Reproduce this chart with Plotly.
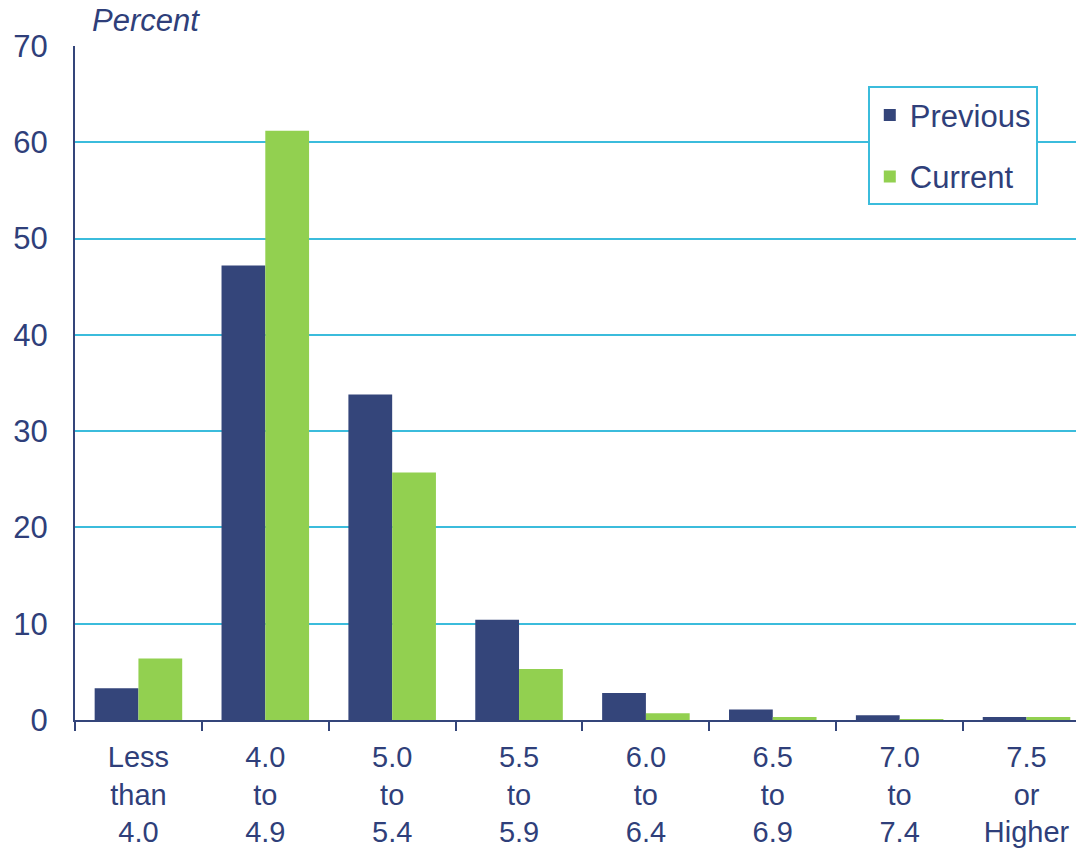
import plotly.graph_objects as go

categories = ["Less<br>than<br>4.0", "4.0<br>to<br>4.9", "5.0<br>to<br>5.4", "5.5<br>to<br>5.9",
              "6.0<br>to<br>6.4", "6.5<br>to<br>6.9", "7.0<br>to<br>7.4", "7.5<br>or<br>Higher"]
previous = [3.3, 47.2, 33.8, 10.4, 2.8, 1.1, 0.5, 0.3]
current = [6.4, 61.2, 25.7, 5.3, 0.7, 0.3, 0.1, 0.3]

navy = "#34457A"
green = "#92D050"
cyan = "#3BBCDC"
text_color = "#2F3F7A"

fig = go.Figure()
fig.add_trace(go.Bar(x=categories, y=previous, name="Previous", legendgroup="p",
                     marker=dict(color=navy, line=dict(width=0))))
fig.add_trace(go.Bar(x=categories, y=current, name="Current", legendgroup="c",
                     marker=dict(color=green, line=dict(width=0))))

fig.update_layout(
    width=1076, height=848,
    margin=dict(l=75, r=0, t=46, b=128),
    paper_bgcolor="white", plot_bgcolor="white",
    barmode="group", bargap=0.31, bargroupgap=0,
    font=dict(family="Liberation Sans, Arial, sans-serif", size=29, color=text_color),
    showlegend=True,
    legend=dict(x=0.792, y=0.94, xanchor="left", yanchor="top",
                bordercolor=cyan, borderwidth=2, bgcolor="white",
                font=dict(size=31, color=text_color),
                itemwidth=30, entrywidth=175, entrywidthmode="pixels",
                tracegroupgap=18, traceorder="grouped"),
    xaxis=dict(showgrid=False, showline=True, linecolor=navy, linewidth=2,
               range=[-0.5, 7.39],
               ticks="outside", tickson="boundaries", ticklen=9, tickwidth=2, tickcolor=navy,
               ticklabelstandoff=10,
               tickfont=dict(size=29, color=text_color)),
    yaxis=dict(range=[0, 70], dtick=10, showgrid=True, gridcolor=cyan, gridwidth=2,
               showline=True, linecolor=navy, linewidth=2, zeroline=False,
               ticks="", ticklabelstandoff=19,
               tickfont=dict(size=31, color=text_color)),
    annotations=[dict(text="<i>Percent</i>", xref="paper", yref="paper", x=0.015, y=1.0,
                      xanchor="left", yanchor="bottom", yshift=6, showarrow=False,
                      font=dict(size=31, color=text_color))],
)

fig.write_html("out.html")
